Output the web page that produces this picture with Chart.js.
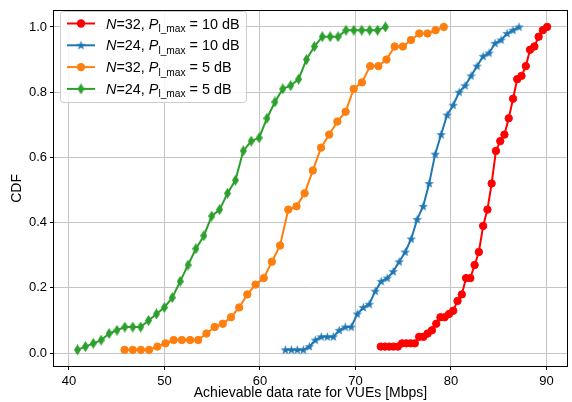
<!DOCTYPE html>
<html>
<head>
<meta charset="utf-8">
<script src="https://cdn.jsdelivr.net/npm/chart.js@4.4.1/dist/chart.umd.min.js"></script>
<style>
  html, body { margin: 0; padding: 0; background: #fff; }
  #wrap { width: 572px; height: 402px; }
</style>
</head>
<body>
<div id="wrap"><canvas id="cdfChart" width="572" height="402"></canvas></div>
<script>
// valores (CDF da taxa de dados por VUE)
const redX = [72.65, 73.10, 73.54, 73.99, 74.44, 74.88, 75.33, 75.78, 76.22, 76.67,
              77.12, 77.56, 78.01, 78.46, 78.90, 79.35, 79.80, 80.24, 80.69, 81.14,
              81.58, 82.03, 82.48, 82.92, 83.37, 83.82, 84.26, 84.71, 85.16, 85.60,
              86.05, 86.50, 86.94, 87.39, 87.84, 88.28, 88.73, 89.18, 89.62, 90.07];
const redY = [0.02, 0.02, 0.02, 0.02, 0.02, 0.03, 0.03, 0.03, 0.03, 0.05,
              0.05, 0.06, 0.07, 0.09, 0.11, 0.11, 0.12, 0.13, 0.16, 0.18,
              0.23, 0.23, 0.27, 0.31, 0.39, 0.44, 0.52, 0.62, 0.65, 0.67,
              0.72, 0.78, 0.84, 0.85, 0.88, 0.93, 0.94, 0.97, 0.99, 1.00];

const blueX = [62.66, 63.29, 63.91, 64.54, 65.17, 65.80, 66.42, 67.05, 67.68, 68.31,
               68.93, 69.56, 70.19, 70.82, 71.44, 72.07, 72.70, 73.33, 73.95, 74.58,
               75.21, 75.84, 76.46, 77.09, 77.72, 78.35, 78.97, 79.60, 80.23, 80.86,
               81.48, 82.11, 82.74, 83.37, 83.99, 84.62, 85.25, 85.88, 86.50, 87.13];
const blueY = [0.01, 0.01, 0.01, 0.01, 0.02, 0.04, 0.05, 0.05, 0.05, 0.07,
               0.08, 0.08, 0.12, 0.14, 0.15, 0.19, 0.22, 0.23, 0.25, 0.28,
               0.31, 0.35, 0.41, 0.45, 0.52, 0.61, 0.67, 0.73, 0.76, 0.80,
               0.82, 0.85, 0.88, 0.91, 0.92, 0.95, 0.96, 0.98, 0.99, 1.00];

const orangeX = [45.83, 46.69, 47.54, 48.40, 49.26, 50.11, 50.97, 51.83, 52.69, 53.54,
                 54.40, 55.26, 56.11, 56.97, 57.83, 58.68, 59.54, 60.40, 61.25, 62.11,
                 62.97, 63.83, 64.68, 65.54, 66.40, 67.25, 68.11, 68.97, 69.82, 70.68,
                 71.54, 72.40, 73.25, 74.11, 74.97, 75.82, 76.68, 77.54, 78.39, 79.25];
const orangeY = [0.01, 0.01, 0.01, 0.01, 0.02, 0.03, 0.04, 0.04, 0.04, 0.04,
                 0.06, 0.08, 0.09, 0.11, 0.14, 0.18, 0.21, 0.23, 0.28, 0.33,
                 0.44, 0.45, 0.49, 0.56, 0.63, 0.67, 0.71, 0.74, 0.81, 0.83,
                 0.88, 0.88, 0.90, 0.94, 0.94, 0.96, 0.98, 0.98, 0.99, 1.00];

const greenX = [40.90, 41.73, 42.55, 43.38, 44.21, 45.03, 45.86, 46.69, 47.51, 48.34,
                49.17, 49.99, 50.82, 51.65, 52.47, 53.30, 54.13, 54.95, 55.78, 56.61,
                57.43, 58.26, 59.09, 59.91, 60.74, 61.57, 62.39, 63.22, 64.05, 64.87,
                65.70, 66.53, 67.35, 68.18, 69.01, 69.83, 70.66, 71.49, 72.31, 73.14];
const greenY = [0.01, 0.02, 0.03, 0.04, 0.06, 0.07, 0.08, 0.08, 0.08, 0.10,
                0.12, 0.14, 0.17, 0.22, 0.27, 0.32, 0.36, 0.42, 0.44, 0.49,
                0.53, 0.62, 0.65, 0.66, 0.72, 0.77, 0.81, 0.82, 0.84, 0.90,
                0.94, 0.97, 0.97, 0.97, 0.99, 0.99, 0.99, 0.99, 0.99, 1.00];

const seriesN = [32, 24, 32, 24];
const seriesP = [10, 10, 5, 5];
const xTicks = [40, 50, 60, 70, 80, 90];
const yTicks = [0.0, 0.2, 0.4, 0.6, 0.8, 1.0];

const FONT = '"Liberation Sans", Arial, Helvetica, sans-serif';

// marcadores desenhados à mão (estrela e diamante fino)
function makeStar(color) {
    const c = document.createElement('canvas');
    c.width = 11; c.height = 11;
    const g = c.getContext('2d');
    g.fillStyle = color;
    g.beginPath();
    for (let i = 0; i < 10; i++) {
        const r = i % 2 === 0 ? 5 : 2;
        const a = -Math.PI / 2 + i * Math.PI / 5;
        const px = 5.5 + r * Math.cos(a), py = 5.8 + r * Math.sin(a);
        if (i === 0) g.moveTo(px, py); else g.lineTo(px, py);
    }
    g.closePath();
    g.fill();
    return c;
}
function makeThinDiamond(color) {
    const c = document.createElement('canvas');
    c.width = 7; c.height = 11;
    const g = c.getContext('2d');
    g.fillStyle = color;
    g.beginPath();
    g.moveTo(3.5, 0); g.lineTo(7, 5.5); g.lineTo(3.5, 11); g.lineTo(0, 5.5);
    g.closePath();
    g.fill();
    return c;
}

const colors = ['#ff0000', '#1f77b4', '#ff7f0e', '#2ca02c'];
const starImg = makeStar(colors[1]);
const diamondImg = makeThinDiamond(colors[3]);
const markers = ['circle', starImg, 'circle', diamondImg];

const xs = [redX, blueX, orangeX, greenX];
const ys = [redY, blueY, orangeY, greenY];

const datasets = xs.map((xArr, i) => ({
    label: 'N=' + seriesN[i] + ', P_l_max = ' + seriesP[i] + ' dB',
    data: xArr.map((x, k) => ({ x: x, y: ys[i][k] })),
    borderColor: colors[i],
    backgroundColor: colors[i],
    borderWidth: 2,
    pointStyle: markers[i],
    pointRadius: 3.7,
    pointBorderWidth: 1,
    pointBorderColor: colors[i],
    pointBackgroundColor: colors[i],
    tension: 0,
    fill: false,
    order: 4 - i
}));

function drawMarker(ctx, i, x, y) {
    const m = markers[i];
    if (m === 'circle') {
        ctx.fillStyle = colors[i];
        ctx.beginPath();
        ctx.arc(x, y, 4.2, 0, Math.PI * 2);
        ctx.fill();
    } else {
        ctx.drawImage(m, x - m.width / 2, y - m.height / 2);
    }
}

// legenda com itálico e subscrito, como no matplotlib
const legendPlugin = {
    id: 'mplLegend',
    afterDatasetsDraw(chart) {
        const ctx = chart.ctx;
        const a = chart.chartArea;
        ctx.save();
        // moldura dos eixos
        ctx.strokeStyle = '#000';
        ctx.lineWidth = 1;
        ctx.strokeRect(Math.round(a.left) - 0.5, Math.round(a.top) - 0.5,
                       Math.round(a.right - a.left) + 1, Math.round(a.bottom - a.top) + 1);

        const bx = 60.5, by = 11.5, bw = 186, bh = 91;
        ctx.beginPath();
        ctx.roundRect(bx, by, bw, bh, 3);
        ctx.fillStyle = 'rgba(255,255,255,0.85)';
        ctx.fill();
        ctx.strokeStyle = '#cccccc';
        ctx.stroke();

        for (let i = 0; i < 4; i++) {
            const y = 23.5 + i * 21.8;
            ctx.strokeStyle = colors[i];
            ctx.lineWidth = 2;
            ctx.beginPath();
            ctx.moveTo(67, y); ctx.lineTo(95, y);
            ctx.stroke();
            drawMarker(ctx, i, 81, y);

            const parts = [
                { t: 'N', f: 'italic 14.4px ' + FONT, dy: 0 },
                { t: '=' + seriesN[i] + ', ', f: '14.4px ' + FONT, dy: 0 },
                { t: 'P', f: 'italic 14.4px ' + FONT, dy: 0 },
                { t: 'l_max', f: '10.2px ' + FONT, dy: 3.5 },
                { t: ' = ' + seriesP[i] + ' dB', f: '14.4px ' + FONT, dy: 0 }
            ];
            let tx = 106;
            ctx.fillStyle = '#000';
            ctx.textBaseline = 'alphabetic';
            ctx.textAlign = 'left';
            parts.forEach(p => {
                ctx.font = p.f;
                ctx.fillText(p.t, tx, y + 5 + p.dy);
                tx += ctx.measureText(p.t).width;
            });
        }
        ctx.restore();
    }
};

const ctx = document.getElementById('cdfChart').getContext('2d');
const cdfChart = new Chart(ctx, {
    type: 'line',
    data: { datasets: datasets },
    options: {
        responsive: false,
        animation: false,
        devicePixelRatio: 1,
        layout: { padding: { top: 6, right: 2, left: 0, bottom: 0 } },
        plugins: {
            legend: { display: false },
            tooltip: { enabled: false }
        },
        scales: {
            x: {
                type: 'linear',
                min: 38.44,
                max: 92.15,
                afterBuildTicks: s => { s.ticks = xTicks.map(v => ({ value: v })); },
                afterFit: s => { s.height = 36; },
                grid: { color: '#c4c4c4', lineWidth: 1, tickColor: '#000', tickLength: 4 },
                border: { display: false },
                ticks: {
                    color: '#000',
                    padding: 4,
                    maxRotation: 0,
                    font: { family: FONT, size: 13 },
                    callback: v => String(v)
                },
                title: {
                    display: true,
                    text: 'Achievable data rate for VUEs [Mbps]',
                    color: '#000',
                    font: { family: FONT, size: 14 },
                    padding: { top: 0, bottom: 0 }
                }
            },
            y: {
                type: 'linear',
                min: -0.0395,
                max: 1.0495,
                afterBuildTicks: s => { s.ticks = yTicks.map(v => ({ value: v })); },
                afterFit: s => { s.width = 54; },
                grid: { color: '#c4c4c4', lineWidth: 1, tickColor: '#000', tickLength: 4 },
                border: { display: false },
                ticks: {
                    color: '#000',
                    padding: 3,
                    font: { family: FONT, size: 13 },
                    callback: v => v.toFixed(1)
                },
                title: {
                    display: true,
                    text: 'CDF',
                    color: '#000',
                    font: { family: FONT, size: 14 },
                    padding: { top: 9, bottom: 0 }
                }
            }
        }
    },
    plugins: [legendPlugin]
});
</script>
</body>
</html>
